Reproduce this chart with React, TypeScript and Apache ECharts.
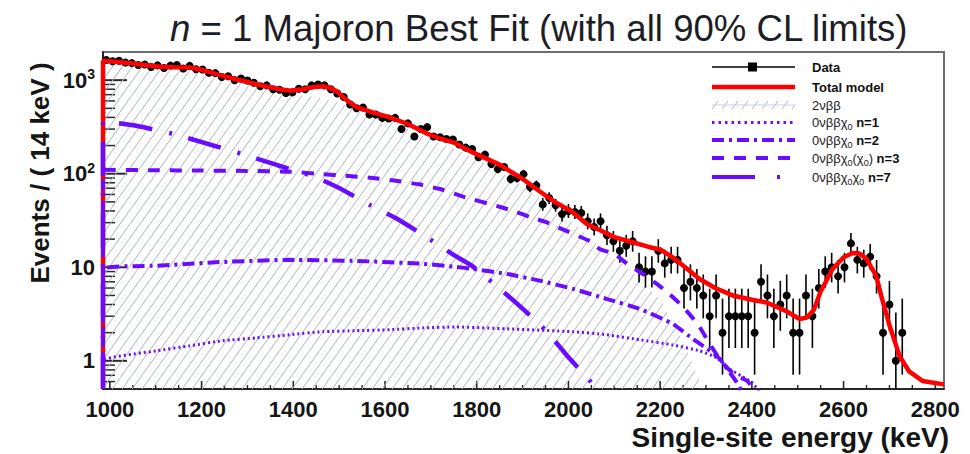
import { useEffect, useRef } from "react";
import * as echarts from "echarts";

const FONT = "'Liberation Sans', Arial, Helvetica, sans-serif";
const VIOLET = "#6a0dff";
const RED = "#ff0000";

// Binning of the single-site spectrum
const BIN_WIDTH = 14;
const FIRST_BIN_CENTER = 992;
const X_MIN = 985;
const X_MAX = 2819;
const Y_MIN = 0.5;
const Y_MAX = 2000;

// Observed counts per 14 keV bin, starting at 992 keV
const eventCounts = [
  1640, 1590, 1610, 1540, 1520, 1450, 1470, 1380, 1440, 1350,
  1430, 1450, 1330, 1420, 1310, 1300, 1200, 1190, 1080, 1100,
  1000, 1040, 990, 940, 860, 880, 800, 790, 730, 740,
  810, 800, 880, 900, 880, 800, 720, 660, 550, 500,
  510, 430, 430, 395, 390, 395, 300, 345, 250, 300,
  315, 250, 245, 235, 232, 205, 190, 184, 150, 160,
  127, 112, 118, 88, 90, 99, 72, 75, 47, 55,
  46, 37, 40, 39, 38, 31, 27, 31, 22, 19,
  15, 17, 19, 10, 9, 9, 15, 11, 12, 12,
  6, 7, 6, 5, 3, 5, 2, 3, 3, 3,
  3, 2, 7, 5, 3, 4, 5, 2, 2, 5,
  3, 6, 9, 10, 8, 10, 18, 12, 11, 13,
  8, 2, 4, 1, 2, 0, 0, 0, 0, 0, 0,
];

// Fitted model curves [energy keV, events / 14 keV]
const totalModel = [
  [985, 1610], [1000, 1590], [1040, 1530], [1080, 1440], [1110, 1390], [1140, 1375],
  [1175, 1365], [1200, 1290], [1250, 1100], [1290, 980], [1330, 880], [1370, 800],
  [1395, 770], [1420, 800], [1445, 845], [1465, 860], [1480, 830], [1495, 760],
  [1515, 620], [1538, 515], [1575, 450], [1610, 400], [1650, 340], [1690, 270],
  [1720, 238], [1750, 215], [1790, 170], [1850, 125], [1900, 88], [1937, 65],
  [1970, 50], [2009, 39], [2040, 29], [2068, 25], [2100, 21], [2140, 18.5],
  [2175, 16.5], [2200, 15.5], [2225, 13], [2249, 10.5], [2286, 7.5], [2320, 6],
  [2358, 5], [2400, 4.5], [2432, 4.2], [2475, 3.4], [2504, 2.8], [2520, 2.9],
  [2535, 3.5], [2550, 5.5], [2576, 9.6], [2600, 12.8], [2620, 14.2], [2635, 14],
  [2650, 12.3], [2671, 8.1], [2684, 4.6], [2700, 2.4], [2722, 1.13], [2743, 0.77],
  [2772, 0.61], [2819, 0.56],
];

const twoNeutrino = [
  [985, 1500], [1040, 1400], [1080, 1310], [1110, 1270], [1175, 1240], [1250, 1000],
  [1290, 890], [1330, 800], [1370, 720], [1420, 690], [1465, 640], [1500, 570],
  [1538, 475], [1575, 415], [1610, 362], [1650, 302], [1713, 218], [1750, 186],
  [1791, 150], [1850, 105], [1900, 75], [1937, 55], [2009, 30], [2068, 17],
  [2100, 12.5], [2150, 8], [2200, 4.5], [2250, 1.6], [2290, 0.55], [2310, 0.3],
];

const majoronN1 = [
  [985, 1.0], [1102, 1.28], [1174, 1.45], [1246, 1.64], [1319, 1.76], [1392, 1.9],
  [1464, 2.05], [1538, 2.1], [1610, 2.15], [1682, 2.25], [1756, 2.3], [1865, 2.2],
  [2009, 2.05], [2083, 1.9], [2155, 1.68], [2227, 1.48], [2286, 1.28], [2323, 1.08],
  [2351, 0.82], [2379, 0.68], [2401, 0.58], [2420, 0.45],
];

const majoronN2 = [
  [985, 9.6], [1102, 10.4], [1246, 11.4], [1392, 12], [1538, 11.7], [1682, 10.9],
  [1756, 10.1], [1791, 9.6], [1865, 8.5], [1937, 7.2], [2009, 5.9], [2083, 4.6],
  [2155, 3.6], [2227, 2.49], [2271, 1.72], [2302, 1.35], [2330, 1.05], [2351, 0.76],
  [2366, 0.6], [2380, 0.45],
];

const majoronN3 = [
  [985, 110], [1100, 109], [1200, 108], [1300, 107], [1392, 105], [1464, 99],
  [1514, 95], [1573, 90], [1624, 84], [1674, 77], [1718, 69], [1770, 57],
  [1845, 45], [1880, 40], [1916, 34.5], [1950, 30.5], [1985, 25.7], [2050, 18.7],
  [2068, 15.7], [2100, 13.9], [2133, 10.4], [2162, 8.5], [2192, 6.7], [2220, 5.2],
  [2247, 3.9], [2269, 2.95], [2286, 2.31], [2304, 1.64], [2325, 1.13], [2344, 0.86],
  [2366, 0.69], [2390, 0.61], [2410, 0.45],
];

const majoronN7 = [
  [985, 365], [1060, 323], [1140, 265], [1214, 208], [1290, 162], [1364, 124],
  [1443, 94], [1501, 70], [1568, 46], [1626, 33], [1691, 21], [1746, 13.9],
  [1789, 10.4], [1854, 5.7], [1909, 3.3], [1953, 2.05], [2003, 1.05], [2047, 0.61],
  [2075, 0.4],
];

const xMajorTicks = [1000, 1200, 1400, 1600, 1800, 2000, 2200, 2400, 2600, 2800];
const yMajorTicks = [1, 10, 100, 1000];

const titleText = "{it|n} = 1 Majoron Best Fit (with all 90% CL limits)";
const xAxisTitle = "Single-site energy (keV)";
const yAxisTitle = "Events / ( 14 keV )";

const legendLabels = [
  "{b|Data}",
  "{b|Total model}",
  "2νββ",
  "0νββχ{s|0} {b|n=1}",
  "0νββχ{s|0} {b|n=2}",
  "0νββχ{s|0}(χ{s|0}) {b|n=3}",
  "0νββχ{s|0}χ{s|0} {b|n=7}",
];

// 68% Poisson interval (Wilson-Hilferty approximation)
function poissonLow(n: number) {
  if (n <= 0) return 0;
  const t = 1 - 1 / (9 * n) - 1 / (3 * Math.sqrt(n));
  return n * t * t * t;
}
function poissonHigh(n: number) {
  const m = n + 1;
  const t = 1 - 1 / (9 * m) + 1 / (3 * Math.sqrt(m));
  return m * t * t * t;
}

function makeHatch() {
  const w = 10;
  const h = 14;
  const c = document.createElement("canvas");
  c.width = w;
  c.height = h;
  const ctx = c.getContext("2d");
  if (ctx) {
    ctx.strokeStyle = "#aab5c6";
    ctx.lineWidth = 1;
    for (const dx of [-w, 0, w]) {
      ctx.beginPath();
      ctx.moveTo(dx, h);
      ctx.lineTo(dx + w, 0);
      ctx.stroke();
    }
  }
  return { image: c.toDataURL(), repeat: "repeat", imageWidth: w, imageHeight: h };
}

// Curves are closed down to the lower edge at the left border of the frame
function closedAtLeft(curve: number[][]) {
  return [[X_MIN, Y_MIN], ...curve];
}

export default function App() {
  const ref = useRef<HTMLDivElement>(null);

  useEffect(() => {
    if (!ref.current) return;
    const chart = echarts.init(ref.current, null, { renderer: "svg" });
    const hatch = makeHatch();

    const points = eventCounts
      .map((n, k) => [FIRST_BIN_CENTER + k * BIN_WIDTH, n, poissonLow(n), poissonHigh(n)])
      .filter((d) => d[1] > 0);

    const xMinorTicks: number[] = [];
    for (let v = 1000; v <= 2800; v += 50) {
      if (!xMajorTicks.includes(v)) xMinorTicks.push(v);
    }
    const yMinorTicks: number[] = [];
    for (const d of [0.1, 1, 10, 100]) {
      for (let m = 2; m <= 9; m++) {
        const v = m * d;
        if (v > Y_MIN && v < Y_MAX) yMinorTicks.push(v);
      }
    }

    const labelFont = { fontFamily: FONT, fontWeight: "bold" as const, color: "#151515" };

    const legendY = [67, 87, 105, 122.5, 140, 158, 177];
    const legendX0 = 712;
    const legendX1 = 795;
    const legendTextX = 812;
    const legendDash = [null, null, null, [2.5, 4], [12, 5, 3, 5], [12, 10], [43, 22, 3, 40]];

    const staticGraphics: any[] = [
      {
        type: "text",
        x: 170,
        y: 28,
        style: {
          text: titleText,
          fontFamily: FONT,
          fontSize: 36.6,
          fill: "#1d1d26",
          verticalAlign: "middle",
          rich: {
            it: { fontFamily: FONT, fontSize: 36.6, fontStyle: "italic", fill: "#1d1d26" },
          },
        },
      },
      {
        type: "text",
        x: 40,
        y: 173,
        rotation: Math.PI / 2,
        style: {
          text: yAxisTitle,
          fontFamily: FONT,
          fontSize: 26,
          fontWeight: "bold",
          fill: "#151515",
          align: "center",
          verticalAlign: "middle",
        },
      },
      {
        type: "text",
        x: 949,
        y: 437,
        style: {
          text: xAxisTitle,
          fontFamily: FONT,
          fontSize: 28,
          fontWeight: "bold",
          fill: "#151515",
          align: "right",
          verticalAlign: "middle",
        },
      },
      { type: "line", shape: { x1: legendX0, y1: legendY[0], x2: legendX1, y2: legendY[0] }, style: { stroke: "#000", lineWidth: 1.5 } },
      { type: "rect", shape: { x: 748, y: legendY[0] - 4.5, width: 9, height: 9 }, style: { fill: "#000" } },
      { type: "line", shape: { x1: legendX0, y1: legendY[1], x2: legendX1, y2: legendY[1] }, style: { stroke: RED, lineWidth: 4.5 } },
      { type: "rect", shape: { x: legendX0, y: legendY[2] - 4, width: legendX1 - legendX0, height: 8 }, style: { fill: hatch } },
      { type: "line", shape: { x1: legendX0, y1: legendY[2], x2: legendX1, y2: legendY[2] }, style: { stroke: "#c9d1dc", lineWidth: 1 } },
    ];
    for (let i = 3; i < 7; i++) {
      staticGraphics.push({
        type: "line",
        shape: { x1: legendX0, y1: legendY[i], x2: legendX1, y2: legendY[i] },
        style: { stroke: VIOLET, lineWidth: i === 3 ? 3 : 4, lineDash: legendDash[i] },
      });
    }
    legendLabels.forEach((t, i) => {
      staticGraphics.push({
        type: "text",
        x: legendTextX,
        y: legendY[i],
        style: {
          text: t,
          fontFamily: FONT,
          fontSize: 13,
          fill: "#222",
          verticalAlign: "middle",
          rich: {
            b: { fontFamily: FONT, fontSize: 13, fontWeight: "bold", fill: "#111" },
            s: { fontFamily: FONT, fontSize: 9, padding: [9, 0, 0, 0], fill: "#222" },
          },
        },
      });
    });

    // Inward frame ticks in pixel space of the fixed grid box
    const gridLeft = 103;
    const gridTop = 52;
    const gridRight = 944;
    const gridBottom = 389;
    const xToPx = (v: number) => gridLeft + ((v - X_MIN) / (X_MAX - X_MIN)) * (gridRight - gridLeft);
    const yToPx = (v: number) =>
      gridBottom -
      ((Math.log10(v) - Math.log10(Y_MIN)) / (Math.log10(Y_MAX) - Math.log10(Y_MIN))) * (gridBottom - gridTop);
    const tickGraphics: any[] = [];
    const tick = (x1: number, y1: number, x2: number, y2: number, w: number) =>
      tickGraphics.push({
        type: "line",
        silent: true,
        shape: { x1, y1, x2, y2 },
        style: { stroke: "#2a2a2a", lineWidth: w },
      });
    xMajorTicks.forEach((v) => tick(xToPx(v), gridBottom, xToPx(v), gridBottom - 8, 1.6));
    xMinorTicks.forEach((v) => tick(xToPx(v), gridBottom, xToPx(v), gridBottom - 4, 1.4));
    yMajorTicks.forEach((v) => tick(gridLeft, yToPx(v), gridLeft + 24, yToPx(v), 2));
    yMinorTicks.forEach((v) => tick(gridLeft, yToPx(v), gridLeft + 12, yToPx(v), 1.5));

    const option: any = {
      animation: false,
      backgroundColor: "#ffffff",
      grid: {
        left: gridLeft,
        right: 970 - gridRight,
        top: gridTop,
        bottom: 454 - gridBottom,
        show: true,
        borderColor: "#6e6e6e",
        borderWidth: 2,
        backgroundColor: "transparent",
        containLabel: false,
        outerBoundsMode: "none",
      },
      xAxis: {
        type: "value",
        min: X_MIN,
        max: X_MAX,
        minInterval: 200,
        maxInterval: 200,
        position: "bottom",
        axisLine: { show: true, onZero: false, lineStyle: { color: "#111", width: 1.5 } },
        axisTick: { show: false },
        minorTick: { show: false },
        axisLabel: {
          ...labelFont,
          fontSize: 22,
          margin: 9,
          showMinLabel: false,
          showMaxLabel: false,
          formatter: (v: number) => (xMajorTicks.includes(v) ? String(v) : ""),
        },
        splitLine: { show: false },
      },
      yAxis: {
        type: "log",
        logBase: 10,
        min: Y_MIN,
        max: Y_MAX,
        position: "left",
        axisLine: { show: true, onZero: false, lineStyle: { color: "#111", width: 1.5 } },
        axisTick: { show: false },
        minorTick: { show: false },
        axisLabel: {
          ...labelFont,
          fontSize: 22,
          margin: 8,
          showMinLabel: false,
          showMaxLabel: false,
          formatter: (v: number) => {
            const isMajor = yMajorTicks.some((t) => Math.abs(v - t) / t < 1e-6);
            if (!isMajor) return "";
            if (v < 50) return String(Math.round(v));
            return `{b|10}{s|${Math.round(Math.log10(v))}}`;
          },
          rich: {
            b: { ...labelFont, fontSize: 22 },
            s: { ...labelFont, fontSize: 14, padding: [0, 0, 12, 0] },
          },
        },
        splitLine: { show: false },
      },
      series: [
        {
          name: "2νββ",
          type: "line",
          data: twoNeutrino,
          showSymbol: false,
          silent: true,
          lineStyle: { width: 0, opacity: 0 },
          areaStyle: { color: hatch, opacity: 1, origin: "start" },
          z: 1,
        },
        {
          name: "Data",
          type: "custom",
          data: points,
          encode: { x: 0, y: 1 },
          z: 3,
          renderItem: (_params: any, api: any) => {
            const x = api.value(0);
            const n = api.value(1);
            const lo = Math.max(api.value(2), Y_MIN);
            const hi = Math.min(api.value(3), Y_MAX);
            const p = api.coord([x, n]);
            const top = api.coord([x, hi]);
            const bot = api.coord([x, lo]);
            const left = api.coord([x - BIN_WIDTH / 2, n]);
            const right = api.coord([x + BIN_WIDTH / 2, n]);
            return {
              type: "group",
              children: [
                { type: "line", shape: { x1: p[0], y1: top[1], x2: p[0], y2: bot[1] }, style: { stroke: "#000", lineWidth: 1.6 } },
                { type: "line", shape: { x1: left[0], y1: p[1], x2: right[0], y2: p[1] }, style: { stroke: "#000", lineWidth: 1.6 } },
                { type: "circle", shape: { cx: p[0], cy: p[1], r: 4 }, style: { fill: "#000" } },
              ],
            };
          },
        },
        {
          name: "Total model",
          type: "line",
          data: closedAtLeft(totalModel),
          showSymbol: false,
          lineStyle: { color: RED, width: 4.5 },
          z: 4,
        },
        {
          name: "n=1",
          type: "line",
          data: closedAtLeft(majoronN1),
          showSymbol: false,
          smooth: 0.15,
          lineStyle: { color: VIOLET, width: 3, type: [2, 3] },
          z: 5,
        },
        {
          name: "n=2",
          type: "line",
          data: closedAtLeft(majoronN2),
          showSymbol: false,
          smooth: 0.15,
          lineStyle: { color: VIOLET, width: 4, type: [12, 5, 3, 5] },
          z: 5,
        },
        {
          name: "n=3",
          type: "line",
          data: closedAtLeft(majoronN3),
          showSymbol: false,
          smooth: 0.15,
          lineStyle: { color: VIOLET, width: 4, type: [12, 10] },
          z: 5,
        },
        {
          name: "n=7",
          type: "line",
          data: closedAtLeft(majoronN7),
          showSymbol: false,
          smooth: 0.15,
          lineStyle: { color: VIOLET, width: 4.5, type: [34, 17, 3, 17] },
          z: 5,
        },
      ],
      graphic: [
        ...staticGraphics,
        { type: "group", z: 100, silent: true, children: tickGraphics },
      ],
    };

    chart.setOption(option);
    return () => chart.dispose();
  }, []);

  return (
    <div
      ref={ref}
      style={{ position: "fixed", left: 0, top: 0, width: 970, height: 454, background: "#fff" }}
    />
  );
}
